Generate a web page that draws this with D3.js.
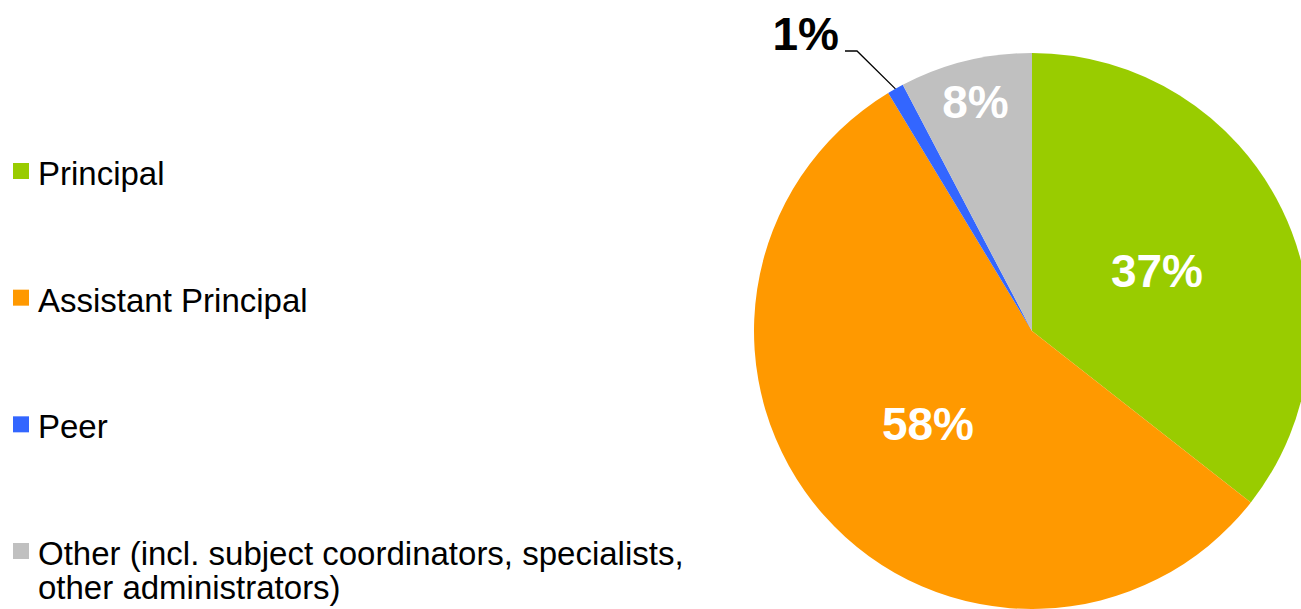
<!DOCTYPE html>
<html>
<head>
<meta charset="utf-8">
<script src="https://cdn.jsdelivr.net/npm/d3@7/dist/d3.min.js"></script>
<style>
  html, body { margin: 0; padding: 0; background: #ffffff; }
  svg { display: block; }
  text { font-family: "Liberation Sans", Arial, sans-serif; }
</style>
</head>
<body>
<svg id="chart" width="1301" height="609"></svg>
<script>
// Who conducts the observation — share of respondents
const categories = ["Principal", "Assistant Principal", "Peer",
  "Other (incl. subject coordinators, specialists, other administrators)"];
const legendLines = [["Principal"], ["Assistant Principal"], ["Peer"],
  ["Other (incl. subject coordinators, specialists,", "other administrators)"]];
const values = [37, 58, 1, 8];
const colors = ["#99CC00", "#FF9900", "#3366FF", "#C0C0C0"];

const svg = d3.select("#chart");
const cx = 1032, cy = 331, R = 278;

const color = d3.scaleOrdinal().domain(categories).range(colors);

const pie = d3.pie().sort(null).value(d => d.value);
const arcs = pie(categories.map((c, i) => ({ name: c, value: values[i] })));

const arc = d3.arc().innerRadius(0).outerRadius(R);

const g = svg.append("g").attr("transform", `translate(${cx},${cy})`);

g.selectAll("path.slice")
  .data(arcs)
  .join("path")
  .attr("class", "slice")
  .attr("d", arc)
  .attr("fill", d => color(d.data.name));

// Data labels: inside slices in white, the tiny slice gets a leader line
const labelRadius = { "Principal": 0.5, "Assistant Principal": 0.5 };
const fmt = v => `${v}%`;

arcs.forEach(d => {
  const name = d.data.name;
  if (name === "Peer") {
    const mid = (d.startAngle + d.endAngle) / 2;
    const p0 = [R * Math.sin(mid), -R * Math.cos(mid)];
    const elbow = [857 - cx, 51 - cy];
    const end = [845 - cx, 51 - cy];
    g.append("polyline")
      .attr("points", [p0, elbow, end].map(p => p.join(",")).join(" "))
      .attr("fill", "none")
      .attr("stroke", "#000")
      .attr("stroke-width", 1.3);
    g.append("text")
      .attr("x", end[0] - 6)
      .attr("y", end[1] - 1)
      .attr("text-anchor", "end")
      .attr("font-size", 46)
      .attr("font-weight", "bold")
      .attr("fill", "#000")
      .text(fmt(d.data.value));
  } else {
    const f = labelRadius[name] !== undefined ? labelRadius[name] : 0.85;
    const la = d3.arc().innerRadius(R * f).outerRadius(R * f);
    const [x, y] = la.centroid(d);
    g.append("text")
      .attr("x", x)
      .attr("y", y)
      .attr("dy", "0.36em")
      .attr("text-anchor", "middle")
      .attr("font-size", 46)
      .attr("font-weight", "bold")
      .attr("fill", "#fff")
      .text(fmt(d.data.value));
  }
});

// Legend
const legendY = d3.scalePoint().domain(categories).range([185, 565]);
const lg = svg.append("g");
categories.forEach((c, i) => {
  const y = legendY(c);
  lg.append("rect")
    .attr("x", 13).attr("y", y - 22)
    .attr("width", 16).attr("height", 16)
    .attr("fill", color(c));
  const t = lg.append("text")
    .attr("x", 38).attr("y", y)
    .attr("font-size", 33)
    .attr("fill", "#000");
  legendLines[i].forEach((line, j) => {
    t.append("tspan").attr("x", 38).attr("dy", j === 0 ? 0 : 34).text(line);
  });
});
</script>
</body>
</html>
